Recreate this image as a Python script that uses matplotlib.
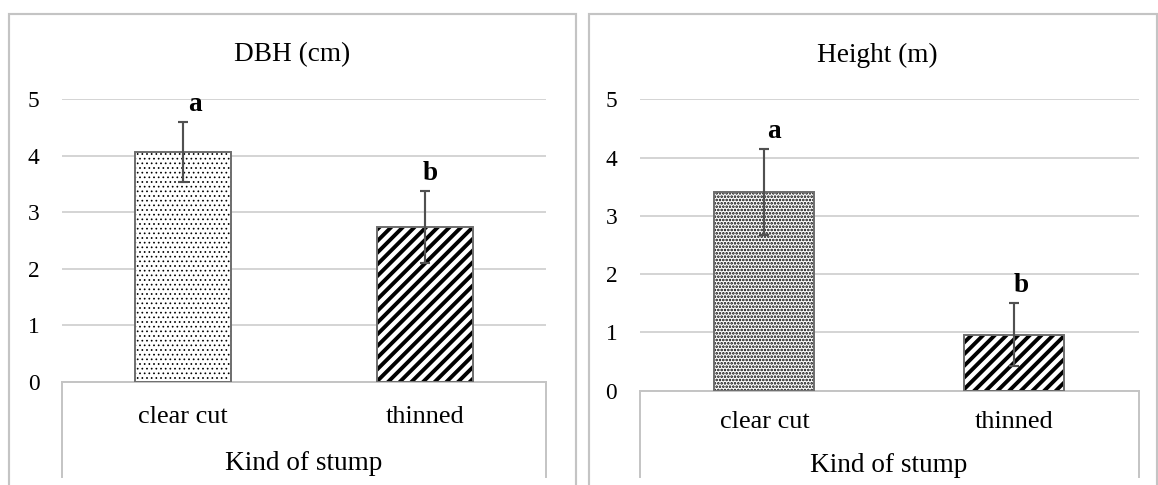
import matplotlib
matplotlib.use('Agg')
import matplotlib.pyplot as plt
from matplotlib.lines import Line2D
from matplotlib.patches import Rectangle
import numpy as np

plt.rcParams['font.family'] = ['Liberation Serif', 'DejaVu Serif']

# stump survey: means and error bars per kind of stump
categories = ['clear cut', 'thinned']
dbh_mean = [4.07, 2.74]
dbh_err = [0.53, 0.63]
height_mean = [3.41, 0.96]
height_err = [0.73, 0.54]
group_letters = ['a', 'b']

W, H = 1158, 485
DPI = 140
fig = plt.figure(figsize=(W / DPI, H / DPI), dpi=DPI)

grid_c = '#d0d0d0'
frame_c = '#c4c4c4'
edge_c = '#6e6e6e'
err_c = '#505050'


def fx(x):
    return x / W


def fy(y):
    return 1 - y / H


def draw_panel(x0, x1, y5, y0, box_bottom, frame, title, title_xy, xlabel_xy,
               means, errs, dot_hatch, dot_lw, letter_dx, cat_pad):
    ax = fig.add_axes([fx(x0), fy(y0), (x1 - x0) / W, (y0 - y5) / H])
    x = np.arange(len(categories))

    hatches = [dot_hatch, '////']
    hatch_lw = [dot_lw, 2.0]
    for i in range(len(x)):
        with plt.rc_context({'hatch.linewidth': hatch_lw[i]}):
            b = ax.bar(x[i], means[i], 0.4, color='white', edgecolor='black',
                       linewidth=0, hatch=hatches[i], zorder=2)
        for p in b.patches:
            if hasattr(p, 'set_hatch_linewidth'):
                p.set_hatch_linewidth(hatch_lw[i])
        ax.bar(x[i], means[i], 0.4, fill=False, edgecolor=edge_c,
               linewidth=1.0, zorder=3)

    ax.errorbar(x, means, yerr=errs, fmt='none', ecolor=err_c,
                elinewidth=1.1, capsize=2.8, capthick=1.1, zorder=4)

    for i in range(len(x)):
        ax.text(x[i] + letter_dx[i], means[i] + errs[i] + 0.2, group_letters[i],
                ha='center', va='baseline', fontsize=14, fontweight='bold')

    ax.set_xlim(-0.5, 1.5)
    ax.set_ylim(0, 5)
    ax.set_yticks(range(6))
    ax.yaxis.grid(True, color=grid_c, linewidth=0.9)
    ax.set_axisbelow(True)
    for s in ['top', 'left', 'right']:
        ax.spines[s].set_visible(False)
    ax.spines['bottom'].set_color(frame_c)
    ax.spines['bottom'].set_linewidth(1.0)
    ax.tick_params(axis='y', length=0, labelsize=12, pad=11.5)
    ax.set_xticks(x)
    ax.set_xticklabels(categories)
    ax.tick_params(axis='x', length=0, labelsize=13.5, pad=cat_pad)

    # category box sides below the axis
    for xx in (x0, x1):
        fig.add_artist(Line2D([fx(xx), fx(xx)], [fy(y0), fy(box_bottom)],
                              color=frame_c, linewidth=1.0))

    # chart frame
    fl, ft, fr = frame
    fig.add_artist(Rectangle((fx(fl), fy(H + 20)), (fr - fl) / W, (H + 20 - ft) / H,
                             transform=fig.transFigure, fill=False,
                             edgecolor=frame_c, linewidth=1.1))

    fig.text(fx(title_xy[0]), fy(title_xy[1]), title, ha='center', va='center',
             fontsize=14)
    fig.text(fx(xlabel_xy[0]), fy(xlabel_xy[1]), 'Kind of stump', ha='center',
             va='center', fontsize=14)
    return ax


draw_panel(62, 546, 99.3, 381.7, 477, (8.5, 14, 575.5), 'DBH (cm)', (292, 55),
           (304, 464), dbh_mean, dbh_err, '.....', 0.45, [0.05, 0.02], 12.5)
draw_panel(639.5, 1139, 99.3, 390.7, 477, (589, 14, 1156.5), 'Height (m)',
           (877, 55), (889, 465), height_mean, height_err, '.......', 0.9,
           [0.04, 0.03], 10.5)

fig.savefig('out.png', dpi=DPI)
